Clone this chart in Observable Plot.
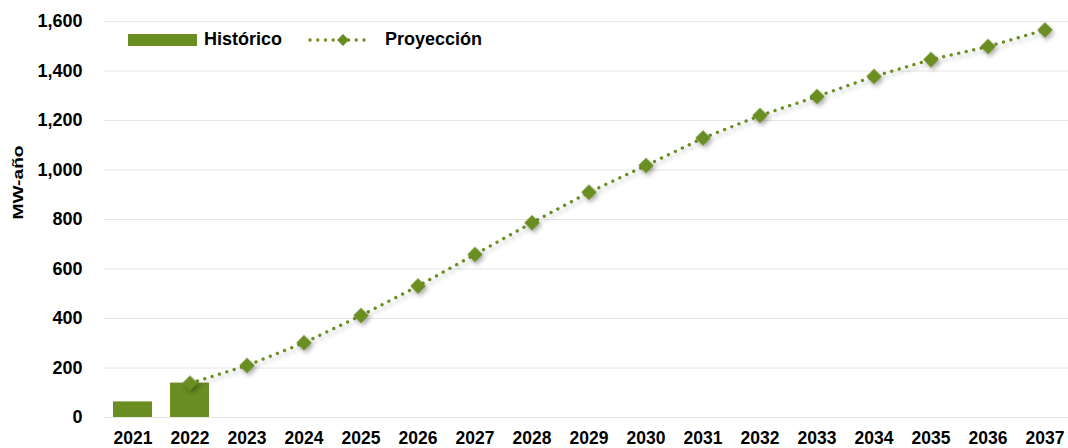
<!DOCTYPE html>
<html>
<head>
<meta charset="utf-8">
<script src="https://cdn.jsdelivr.net/npm/d3@7"></script>
<script src="https://cdn.jsdelivr.net/npm/@observablehq/plot@0.6"></script>
<style>
  html, body { margin: 0; padding: 0; background: #fff; }
  body { width: 1068px; height: 448px; overflow: hidden; font-family: "Liberation Sans", Arial, sans-serif; }
  #wrap { position: relative; width: 1068px; height: 448px; }
  .shadowed { filter: drop-shadow(2px 3px 2px rgba(0,0,0,0.28)); }
  #legend { position: absolute; left: 128px; top: 29px; display: flex; align-items: center; font-weight: bold; font-size: 18px; color: #000; }
  #legend .sw { display: inline-block; width: 69px; height: 12px; background: #6B8E23; margin-right: 7px; }
  #legend .item2 { margin-left: 26px; display: flex; align-items: center; }
</style>
</head>
<body>
<div id="wrap">
  <div id="chart"></div>
  <div id="legend">
    <span class="sw"></span><span>Histórico</span>
    <span class="item2">
      <svg width="64" height="14" style="margin-right:13px">
        <line x1="2" y1="7" x2="62" y2="7" stroke="#6B8E23" stroke-width="3.3" stroke-linecap="round" stroke-dasharray="0.1 7.6"/>
        <path d="M35,1 L41,7 L35,13 L29,7 Z" fill="#6B8E23"/>
      </svg>
      <span>Proyección</span>
    </span>
  </div>
</div>
<script>
const years = ["2021","2022","2023","2024","2025","2026","2027","2028","2029","2030","2031","2032","2033","2034","2035","2036","2037"];
const histYears = ["2021","2022"];
const histValues = [63, 139];
const projYears = ["2022","2023","2024","2025","2026","2027","2028","2029","2030","2031","2032","2033","2034","2035","2036","2037"];
const projValues = [138, 210, 302, 412, 531, 659, 787, 910, 1018, 1129, 1220, 1297, 1378, 1446, 1499, 1566];
const yTicks = [0, 200, 400, 600, 800, 1000, 1200, 1400, 1600];

const hist = histYears.map((y, i) => ({year: y, value: histValues[i]}));
const proj = projYears.map((y, i) => ({year: y, value: projValues[i]}));
const green = "#6B8E23";

const chart = Plot.plot({
  width: 1068,
  height: 448,
  marginLeft: 104,
  marginRight: 0,
  marginTop: 21,
  marginBottom: 31,
  style: {fontFamily: "'Liberation Sans', Arial, sans-serif", fontSize: "18px", fontWeight: "bold", color: "#000", background: "#fff"},
  x: {domain: years, range: [104, 1073], paddingInner: 0.31, paddingOuter: 0.155, align: 0.5, label: null},
  y: {domain: [0, 1600], label: null},
  marks: [
    Plot.gridY(yTicks, {stroke: "#e6e6e6", strokeOpacity: 1, strokeWidth: 1}),
    Plot.barY(hist, {x: "year", y: "value", fill: green}),
    Plot.line(proj, {x: "year", y: "value", stroke: green, strokeWidth: 3.3, strokeLinecap: "round", strokeDasharray: "0.1 7.6", className: "shadowed"}),
    Plot.dot(proj, {x: "year", y: "value", symbol: "diamond2", r: 7, fill: green, stroke: "none", className: "shadowed"}),
    Plot.axisY(yTicks, {tickSize: 0, tickPadding: 22, tickFormat: d3.format(","), fontSize: 18, fontWeight: "bold", label: null}),
    Plot.axisX(years, {tickSize: 0, tickPadding: 14, fontSize: 17.5, fontWeight: "bold", label: null}),
    Plot.text(["MW-año"], {frameAnchor: "left", dx: -86, rotate: -90, fontSize: 15, fontWeight: "bold", fill: "#000", className: "ylab"})
  ]
});
document.getElementById("chart").appendChild(chart);
d3.select(chart).selectAll(".ylab text").attr("textLength", 74).attr("lengthAdjust", "spacingAndGlyphs");
</script>
</body>
</html>
